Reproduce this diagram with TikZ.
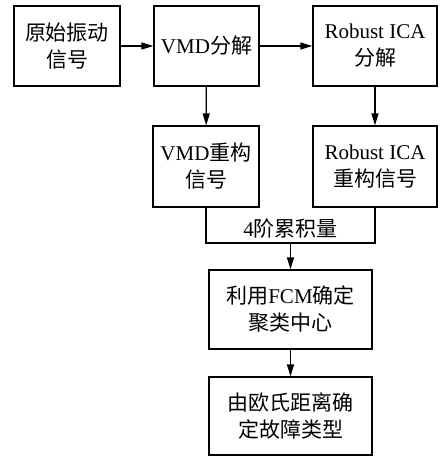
\documentclass[tikz,border=0pt]{standalone}
\usepackage{fontspec}
\setmainfont{Liberation Serif}
\newfontfamily\cjk{Noto Sans CJK SC}
\newcommand{\zh}[1]{{\cjk #1}}
\usetikzlibrary{arrows.meta}
\begin{document}
\begin{tikzpicture}[x=1pt,y=-1pt,
  box/.style={draw,line width=1.3pt,minimum height=80pt,align=center,inner sep=0pt,
    font=\fontsize{21}{27}\selectfont},
  conn/.style={line width=1.3pt},
  arr/.style={conn,-{Triangle[length=12pt,width=7pt]}}]
\useasboundingbox (0,0) rectangle (443,456);
\node[box,minimum width=106pt] (b1) at (67,46) {\zh{原始振动}\\\zh{信号}};
\node[box,minimum width=105pt] (b2) at (206.5,46) {VMD\zh{分解}};
\node[box,minimum width=124pt] (b3) at (375,46) {Robust ICA\\\zh{分解}};
\node[box,minimum width=106pt,minimum height=81pt] (b4) at (206,166.5) {VMD\zh{重构}\\\zh{信号}};
\node[box,minimum width=124pt,minimum height=81pt] (b5) at (375,166.5) {Robust ICA\\\zh{重构信号}};
\node[box,minimum width=163pt,minimum height=79pt] (b6) at (290.5,309.5) {\zh{利用}FCM\zh{确定}\\\zh{聚类中心}};
\node[box,minimum width=163pt,minimum height=78pt] (b7) at (290.5,416) {\zh{由欧氏距离确}\\\zh{定故障类型}};
\coordinate (j) at (290.5,243);
\draw[arr] (b1) -- (b2);
\draw[arr] (b2) -- (b3);
\draw[arr] (b2) -- (b4);
\draw[arr] (b3) -- (b5);
\draw[conn] (b4.south) |- (j) -| (b5.south);
\node[font=\fontsize{21}{27}\selectfont,anchor=base] (lbl) at (290.5,236.5) {4\zh{阶累积量}};
\draw[arr] (j) -- (b6);
\draw[arr] (b6) -- (b7);
\end{tikzpicture}
\end{document}
